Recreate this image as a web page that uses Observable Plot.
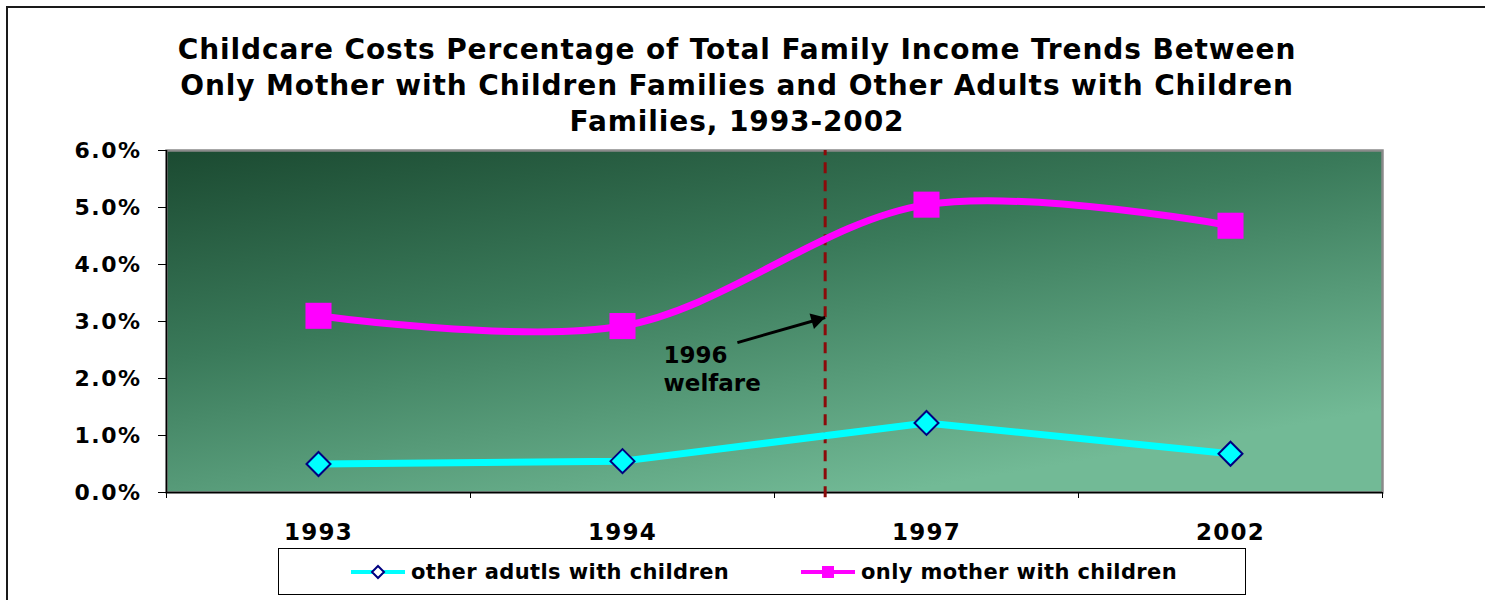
<!DOCTYPE html>
<html>
<head>
<meta charset="utf-8">
<script src="https://cdn.jsdelivr.net/npm/d3@7"></script>
<script src="https://cdn.jsdelivr.net/npm/@observablehq/plot@0.6"></script>
<style>
  html, body { margin: 0; padding: 0; width: 1485px; height: 600px; overflow: hidden; background: #fff; font-family: "DejaVu Sans", Verdana, sans-serif; }
  #frame { position: absolute; left: 6px; top: 6px; width: 1600px; height: 700px; border-left: 2.5px solid #1a1a1a; border-top: 2.5px solid #1a1a1a; }
  #title { position: absolute; left: 137px; width: 1200px; top: 32px; text-align: center; font-weight: bold; font-size: 28px; letter-spacing: 0.9px; line-height: 36px; color: #000; }
  #chart { position: absolute; left: 0; top: 130px; }
  #chart g[aria-label="y-axis tick label"] { letter-spacing: 1.5px; }
  #chart g[aria-label="x-axis tick label"] { letter-spacing: 1.2px; }
  #legend { position: absolute; left: 278px; top: 548px; width: 966px; height: 45px; border: 1.5px solid #000; background: #fff; font-weight: bold; font-size: 21px; letter-spacing: 0.4px; color: #000; }
  .item { position: absolute; top: 0; height: 45px; display: flex; align-items: center; }
  .item svg { margin-right: 4px; }
</style>
</head>
<body>
<div id="frame"></div>
<div id="title">Childcare Costs Percentage of Total Family Income Trends Between<br>Only Mother with Children Families and Other Adults with Children<br>Families, 1993-2002</div>
<div id="chart"></div>
<div id="legend">
  <div class="item" style="left:72px"><svg width="56" height="20"><line x1="0" y1="10" x2="54" y2="10" stroke="#00ffff" stroke-width="4"/><path d="M27,4 L33,10 L27,16 L21,10 Z" fill="#fff" stroke="#000080" stroke-width="2"/></svg><span>other adutls with children</span></div>
  <div class="item" style="left:522px"><svg width="56" height="20"><line x1="0" y1="10" x2="54" y2="10" stroke="#ff00ff" stroke-width="4"/><rect x="21" y="4" width="12" height="12" fill="#ff00ff"/></svg><span>only mother with children</span></div>
</div>
<script>
const categories = ["1993", "1994", "1997", "2002"];
const otherAdults = [0.5, 0.55, 1.22, 0.68];
const onlyMother = [3.1, 2.92, 5.05, 4.68];
const yTicks = [0, 1, 2, 3, 4, 5, 6];
const welfareYear = 1996;
const annotationText = "1996\nwelfare";
const annotationAt = { x: 1.135, y: 2.63 };
const arrowFrom = { x: 1.378, y: 2.63 };
const arrowToY = 3.07;

const W = 1485, H = 417, ML = 166, MR = 103, MT = 20, MB = 55;
const years = categories.map(Number);
const idx = categories.map((c, i) => i);
const bounds = [...idx.map(i => i - 0.5), idx.length - 0.5];
const j = years.findIndex(y => y > welfareYear);
const welfareIdx = (j - 1) + (welfareYear - years[j - 1]) / (years[j] - years[j - 1]);

const mother = idx.map(i => ({ x: i, y: onlyMother[i] }));
const other = idx.map(i => ({ x: i, y: otherAdults[i] }));

// arrow head direction in screen space
const pxX = (W - ML - MR) / idx.length, pxY = (H - MT - MB) / 6;
const ang = Math.atan2(-(arrowToY - arrowFrom.y) * pxY, (welfareIdx - arrowFrom.x) * pxX);
const headOff = 9.3;

const plot = Plot.plot({
  width: W, height: H,
  marginLeft: ML, marginRight: MR, marginTop: MT, marginBottom: MB,
  style: { fontFamily: "DejaVu Sans, Verdana, sans-serif", color: "#000", background: "transparent", overflow: "visible" },
  x: { type: "linear", domain: [-0.5, idx.length - 0.5], axis: null },
  y: { domain: [0, 6], axis: null },
  marks: [
    Plot.frame({ fill: "url(#bg)", stroke: "#8a8a8a", strokeWidth: 2.5 }),
    Plot.ruleY([0], { stroke: "#000", strokeWidth: 1.5 }),
    Plot.ruleX([-0.5], { stroke: "#000", strokeWidth: 1.5 }),
    Plot.axisY({ ticks: yTicks, tickFormat: d => d.toFixed(1) + "%", tickSize: 8, tickPadding: 17, fontSize: 22, fontWeight: "bold", stroke: "#000" }),
    Plot.axisX({ ticks: bounds, tickFormat: () => "", tickSize: 6, stroke: "#000" }),
    Plot.axisX({ ticks: idx, tickFormat: i => categories[i], tickSize: 0, tickPadding: 31, fontSize: 23, fontWeight: "bold" }),
    Plot.ruleX([welfareIdx], { y1: -0.09, y2: 6, stroke: "#8b0a0a", strokeWidth: 3, strokeDasharray: "11,7" }),
    Plot.line(other, { x: "x", y: "y", stroke: "#00ffff", strokeWidth: 7 }),
    Plot.line(mother, { x: "x", y: "y", stroke: "#ff00ff", strokeWidth: 7, curve: "catmull-rom" }),
    Plot.dot(other, { x: "x", y: "y", symbol: "diamond2", r: 10.8, fill: "#00ffff", stroke: "#000080", strokeWidth: 2 }),
    Plot.dot(mother, { x: "x", y: "y", symbol: "square", r: 14.7, fill: "#ff00ff", stroke: "none" }),
    Plot.link([{ x1: arrowFrom.x, y1: arrowFrom.y, x2: welfareIdx, y2: arrowToY }], { x1: "x1", y1: "y1", x2: "x2", y2: "y2", stroke: "#000", strokeWidth: 3 }),
    Plot.dot([{ x: welfareIdx, y: arrowToY }], { x: "x", y: "y", symbol: "triangle", r: 6, fill: "#000", stroke: "none",
      rotate: ang * 180 / Math.PI + 90, dx: -headOff * Math.cos(ang), dy: -headOff * Math.sin(ang) }),
    Plot.text([annotationAt], { x: "x", y: "y", text: () => annotationText, textAnchor: "start", lineAnchor: "top", fontSize: 23, fontWeight: "bold", lineHeight: 1.22, fill: "#000" })
  ]
});

const defs = d3.create("svg:defs");
const g = defs.append("linearGradient").attr("id", "bg").attr("x1", "0").attr("y1", "0").attr("x2", "0.6").attr("y2", "1");
g.append("stop").attr("offset", "0").attr("stop-color", "#1b4a31");
g.append("stop").attr("offset", "0.45").attr("stop-color", "#3a7a5a");
g.append("stop").attr("offset", "1").attr("stop-color", "#72ba96");
plot.insertBefore(defs.node(), plot.firstChild);
document.getElementById("chart").appendChild(plot);
</script>
</body>
</html>
